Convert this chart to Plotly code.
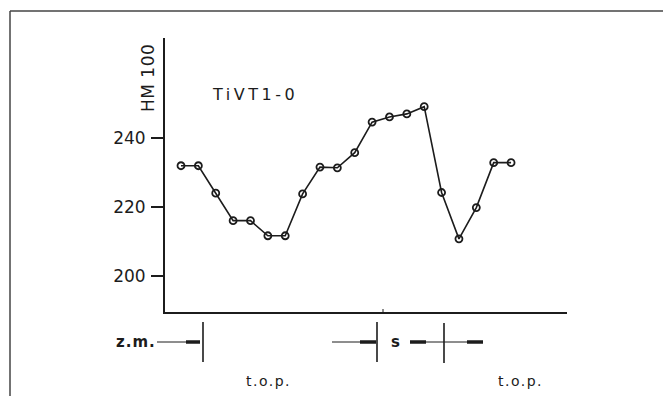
import plotly.graph_objects as go

# data
sample_index = list(range(1, 21))
hm_values = [232.0, 232.0, 224.0, 216.0, 216.0, 211.6, 211.6, 223.8, 231.6, 231.4,
             235.8, 244.7, 246.2, 247.1, 249.2, 224.2, 210.7, 219.8, 232.9, 232.9]
y_ticks = [200, 220, 240]
y_label = "HM 100"
series_label = "TiVT1-0"

INK = "#1c1c1c"
W, H = 663, 396
L, R, T, B = 165, 96, 38, 84
PW, PH = W - L - R, H - T - B


def px(x):
    return (x - L) / PW


def py(y):
    return (H - B - y) / PH


fig = go.Figure()
fig.add_trace(go.Scatter(
    x=sample_index, y=hm_values, mode="lines+markers",
    line=dict(color=INK, width=1.6),
    marker=dict(symbol="circle-open", size=7, color=INK, line=dict(width=1.8, color=INK)),
    showlegend=False, hoverinfo="skip", cliponaxis=False,
))

shapes = []
# outer frame (top and left)
shapes.append(dict(type="line", xref="paper", yref="paper", x0=px(10), x1=px(663), y0=py(11), y1=py(11),
                   line=dict(color="#444", width=1.5)))
shapes.append(dict(type="line", xref="paper", yref="paper", x0=px(10), x1=px(10), y0=py(11), y1=py(396),
                   line=dict(color="#444", width=1.5)))


def seg(x0, y0, x1, y1, w=1.2):
    shapes.append(dict(type="line", xref="paper", yref="paper", x0=px(x0), x1=px(x1), y0=py(y0), y1=py(y1),
                       line=dict(color=INK, width=w)))


ym = 342
# z.m. marker
seg(157, ym, 200, ym, 1.0)
seg(186, ym, 200, ym, 3.5)
seg(203, 322, 203, 362, 1.6)
# s interval
seg(332, ym, 376, ym, 1.0)
seg(360, ym, 376, ym, 3.5)
seg(377, 322, 377, 362, 1.6)
seg(410, ym, 444, ym, 1.0)
seg(410, ym, 426, ym, 3.5)
seg(444, 323, 444, 363, 1.6)
seg(444, ym, 483, ym, 1.0)
seg(467, ym, 483, ym, 3.5)
# tiny tick on x axis
seg(383, 309, 383, 312, 1.0)


def note(text, x, y, size, angle=0, bold=False, spacing=None):
    t = "<b>" + text + "</b>" if bold else text
    if spacing:
        t = '<span style="letter-spacing:%spx">%s</span>' % (spacing, t)
    return dict(text=t, xref="paper", yref="paper", x=px(x), y=py(y), xanchor="center", yanchor="middle",
                textangle=angle, showarrow=False, font=dict(family="DejaVu Sans", size=size, color=INK))


annotations = [
    note(y_label, 148, 78, 17, angle=-90, spacing=0.5),
    note(series_label, 255, 94, 16, spacing=3.5),
    note("z.m.", 136, 342, 15, bold=True, spacing=1),
    note("s", 395, 342, 15, bold=True),
    note("t.o.p.", 268, 381, 14, spacing=1.5),
    note("t.o.p.", 520, 381, 14, spacing=1.5),
]

fig.update_layout(
    width=W, height=H, margin=dict(l=L, r=R, t=T, b=B),
    paper_bgcolor="white", plot_bgcolor="white",
    shapes=shapes, annotations=annotations,
    xaxis=dict(range=[0.079, 23.22], showline=True, linecolor=INK, linewidth=1.8, showgrid=False,
               zeroline=False, showticklabels=False, ticks=""),
    yaxis=dict(range=[189.4, 269.2], showline=True, linecolor=INK, linewidth=1.8, showgrid=False,
               zeroline=False, tickvals=y_ticks, ticks="outside", ticklen=12, tickwidth=1.5, tickcolor=INK,
               tickfont=dict(family="DejaVu Sans", size=17, color=INK), ticklabelstandoff=2),
)

fig.write_html("out.html")
